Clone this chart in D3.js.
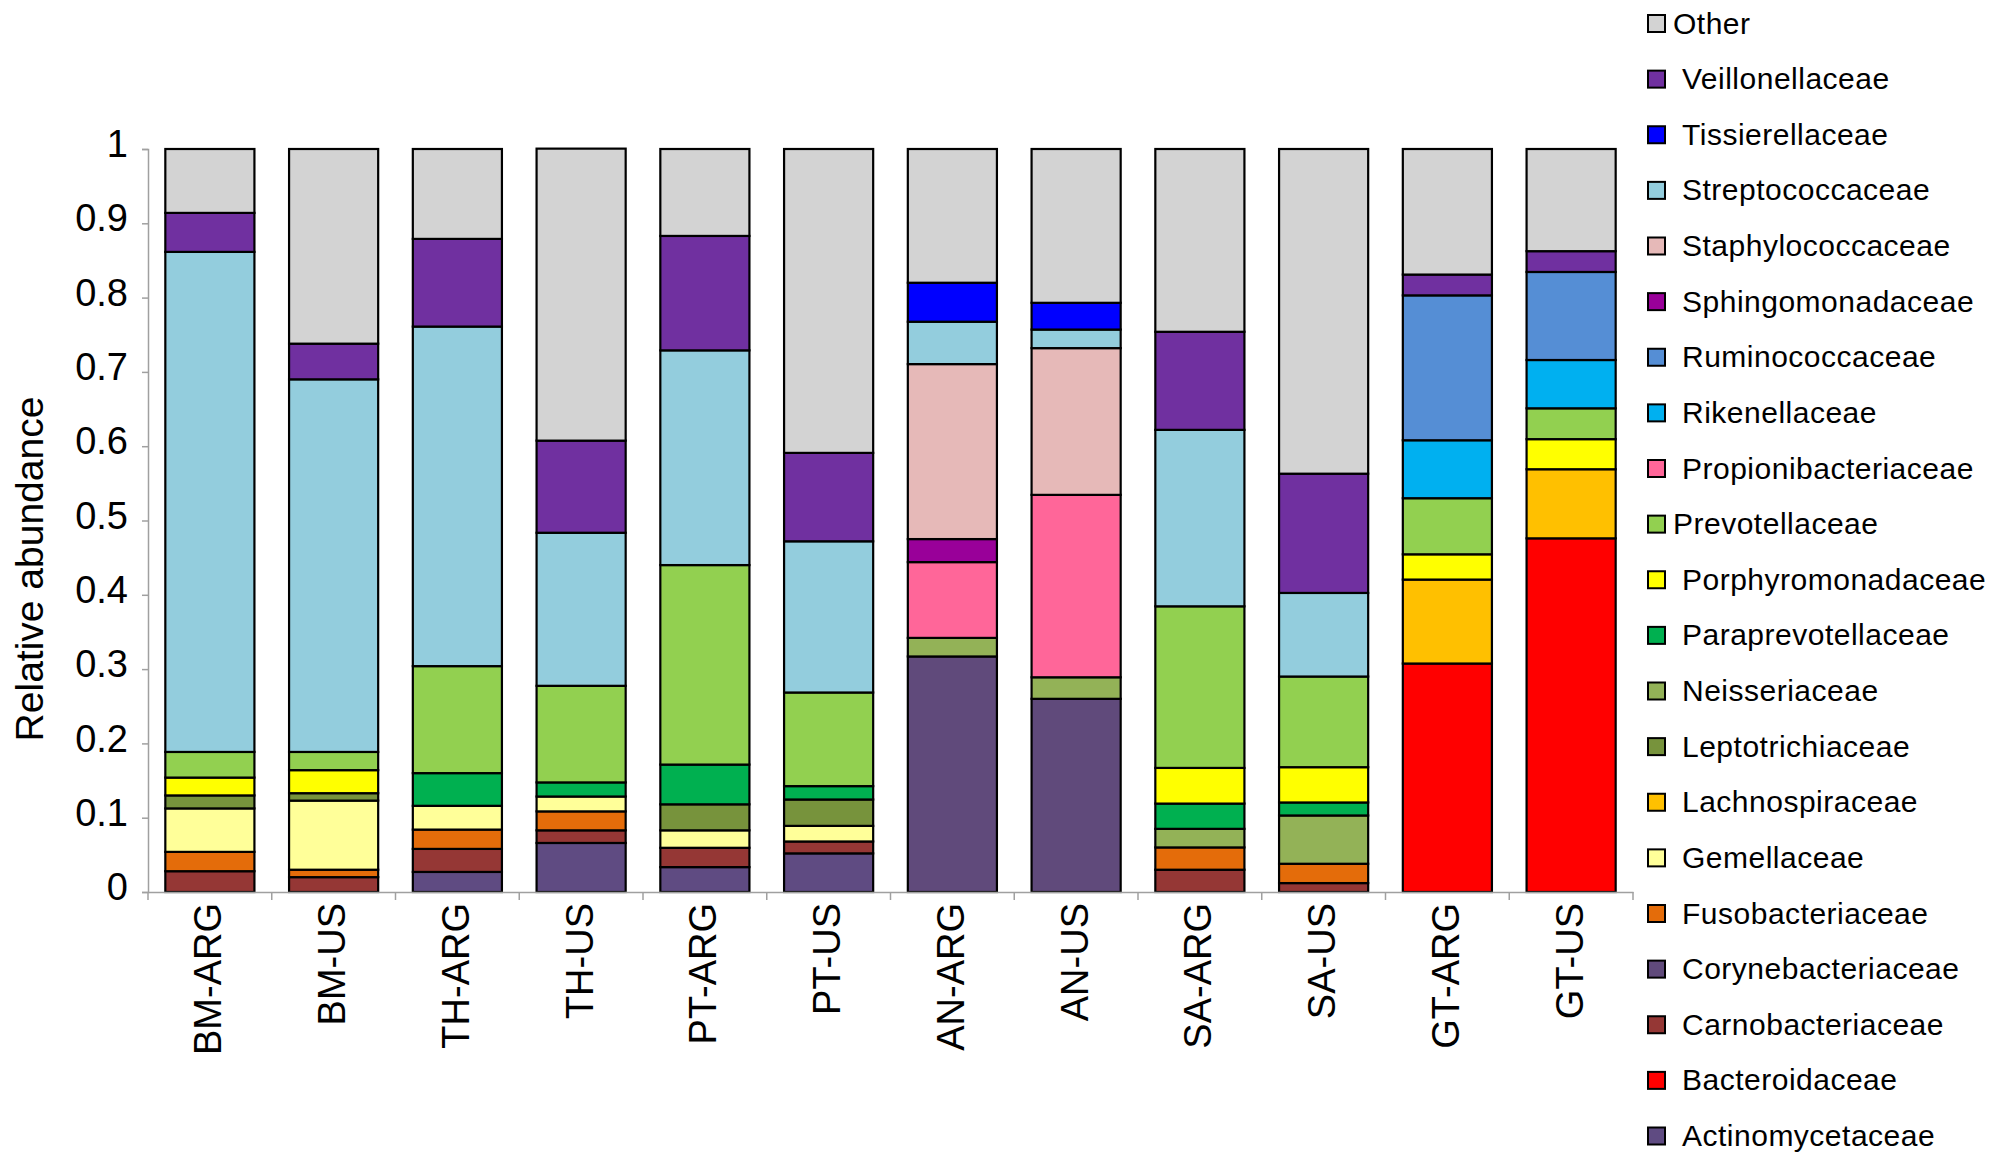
<!DOCTYPE html>
<html>
<head>
<meta charset="utf-8">
<script src="https://cdn.jsdelivr.net/npm/d3@7"></script>
<style>
  body { margin: 0; background: #fff; }
  svg text { font-family: "Liberation Sans", Arial, sans-serif; fill: #000; }
</style>
</head>
<body>
<div id="chart"></div>
<script>
// samples along the x axis
var samples = ["BM-ARG", "BM-US", "TH-ARG", "TH-US", "PT-ARG", "PT-US",
               "AN-ARG", "AN-US", "SA-ARG", "SA-US", "GT-ARG", "GT-US"];

// relative abundance per family, one value per sample (same order as samples)
var Actinomycetaceae     = [0, 0, 0.027, 0.066, 0.0335, 0.052, 0, 0, 0, 0, 0, 0];
var Bacteroidaceae       = [0, 0, 0, 0, 0, 0, 0, 0, 0, 0, 0.3075, 0.476];
var Carnobacteriaceae    = [0.028, 0.020, 0.031, 0.017, 0.026, 0.016, 0, 0, 0.030, 0.012, 0, 0];
var Corynebacteriaceae   = [0, 0, 0, 0, 0, 0, 0.317, 0.260, 0, 0, 0, 0];
var Fusobacteriaceae     = [0.026, 0.010, 0.026, 0.0255, 0, 0, 0, 0, 0.030, 0.026, 0, 0];
var Gemellaceae          = [0.0585, 0.093, 0.032, 0.020, 0.0235, 0.021, 0, 0, 0, 0, 0, 0];
var Lachnospiraceae      = [0, 0, 0, 0, 0, 0, 0, 0, 0, 0, 0.113, 0.093];
var Leptotrichiaceae     = [0.0175, 0.010, 0, 0, 0.035, 0.0355, 0, 0, 0, 0, 0, 0];
var Neisseriaceae        = [0, 0, 0, 0, 0, 0, 0.025, 0.029, 0.025, 0.065, 0, 0];
var Paraprevotellaceae   = [0, 0, 0.044, 0.019, 0.0535, 0.018, 0, 0, 0.034, 0.0175, 0, 0];
var Porphyromonadaceae   = [0.024, 0.031, 0, 0, 0, 0, 0, 0, 0.048, 0.0475, 0.034, 0.0405];
var Prevotellaceae       = [0.0345, 0.0245, 0.144, 0.130, 0.2685, 0.126, 0, 0, 0.2175, 0.122, 0.0755, 0.0415];
var Propionibacteriaceae = [0, 0, 0, 0, 0, 0, 0.102, 0.2455, 0, 0, 0, 0];
var Rikenellaceae        = [0, 0, 0, 0, 0, 0, 0, 0, 0, 0, 0.078, 0.065];
var Ruminococcaceae      = [0, 0, 0, 0, 0, 0, 0, 0, 0, 0, 0.195, 0.1185];
var Sphingomonadaceae    = [0, 0, 0, 0, 0, 0, 0.031, 0, 0, 0, 0, 0];
var Staphylococcaceae    = [0, 0, 0, 0, 0, 0, 0.2355, 0.1975, 0, 0, 0, 0];
var Streptococcaceae     = [0.673, 0.5015, 0.457, 0.206, 0.289, 0.2035, 0.057, 0.025, 0.2375, 0.1125, 0, 0];
var Tissierellaceae      = [0, 0, 0, 0, 0, 0, 0.0525, 0.036, 0, 0, 0, 0];
var Veillonellaceae      = [0.0525, 0.048, 0.118, 0.124, 0.154, 0.119, 0, 0, 0.132, 0.1605, 0.028, 0.028];
var Other                = [0.086, 0.262, 0.121, 0.393, 0.117, 0.409, 0.18, 0.207, 0.246, 0.437, 0.169, 0.1375];

// stacking order, bottom to top
var families = ["Actinomycetaceae", "Bacteroidaceae", "Carnobacteriaceae", "Corynebacteriaceae",
  "Fusobacteriaceae", "Gemellaceae", "Lachnospiraceae", "Leptotrichiaceae", "Neisseriaceae",
  "Paraprevotellaceae", "Porphyromonadaceae", "Prevotellaceae", "Propionibacteriaceae",
  "Rikenellaceae", "Ruminococcaceae", "Sphingomonadaceae", "Staphylococcaceae",
  "Streptococcaceae", "Tissierellaceae", "Veillonellaceae", "Other"];

var familyValues = [Actinomycetaceae, Bacteroidaceae, Carnobacteriaceae, Corynebacteriaceae,
  Fusobacteriaceae, Gemellaceae, Lachnospiraceae, Leptotrichiaceae, Neisseriaceae,
  Paraprevotellaceae, Porphyromonadaceae, Prevotellaceae, Propionibacteriaceae,
  Rikenellaceae, Ruminococcaceae, Sphingomonadaceae, Staphylococcaceae,
  Streptococcaceae, Tissierellaceae, Veillonellaceae, Other];

var familyColors = ["#5f4b82", "#ff0000", "#953735", "#604a7b",
  "#e46c0a", "#ffff99", "#ffc000", "#77933c", "#93b257",
  "#00b050", "#ffff00", "#92d050", "#ff6699",
  "#00b0f0", "#558ed5", "#990099", "#e6b9b8",
  "#93cddd", "#0000ff", "#7030a0", "#d3d3d3"];

var yTicks = [0, 0.1, 0.2, 0.3, 0.4, 0.5, 0.6, 0.7, 0.8, 0.9, 1];

var width = 2000, height = 1164;
var margin = {left: 148, right: 367, top: 149, bottom: 272};

var svg = d3.select("#chart")
    .append("svg")
    .attr("width", width)
    .attr("height", height);

// build the table d3.stack needs
var table = samples.map(function(s, i) {
    var row = {sample: s};
    families.forEach(function(f, j) { row[f] = familyValues[j][i]; });
    return row;
});

var series = d3.stack().keys(families)(table);

var x = d3.scaleBand()
    .domain(samples)
    .range([margin.left, width - margin.right])
    .paddingInner(0.28)
    .paddingOuter(0.14);

var y = d3.scaleLinear()
    .domain([0, 1])
    .range([height - margin.bottom, margin.top]);

var color = d3.scaleOrdinal()
    .domain(families)
    .range(familyColors);

// y axis
var yAxis = svg.append("g")
    .attr("transform", `translate(${margin.left}, 0)`)
    .call(d3.axisLeft(y).tickValues(yTicks).tickSize(6).tickPadding(14)
        .tickFormat(d => d === 0 ? "0" : d === 1 ? "1" : d3.format(".1f")(d)));
yAxis.select(".domain").attr("stroke", "#a0a0a0").attr("stroke-width", 1.5);
yAxis.selectAll(".tick line").attr("stroke", "#a0a0a0").attr("stroke-width", 1.5);
yAxis.selectAll("text")
    .style("font-size", "38px")
    .attr("dy", "0.2em");

// y axis label
svg.append("text")
    .attr("transform", "translate(43, 569) rotate(-90)")
    .style("text-anchor", "middle")
    .style("font-size", "39px")
    .text("Relative abundance");

// bars
svg.append("g")
    .selectAll("g")
    .data(series)
    .enter()
    .append("g")
    .attr("fill", d => color(d.key))
    .selectAll("rect")
    .data(d => d.filter(p => p[1] - p[0] > 0))
    .enter()
    .append("rect")
    .attr("x", d => x(d.data.sample))
    .attr("y", d => y(d[1]))
    .attr("width", x.bandwidth())
    .attr("height", d => y(d[0]) - y(d[1]))
    .attr("stroke", "#000")
    .attr("stroke-width", 2.2);

// x axis
var xAxis = svg.append("g")
    .attr("transform", `translate(0, ${y(0)})`)
    .call(d3.axisBottom(x).tickSize(0));
xAxis.select(".domain").attr("stroke", "#a0a0a0").attr("stroke-width", 1.5);
xAxis.selectAll("text")
    .style("font-size", "38px")
    .style("text-anchor", "end")
    .attr("transform", "rotate(-90)")
    .attr("x", -11)
    .attr("y", 0)
    .attr("dy", "0.3em");

// x tick marks sit between the categories
var boundaries = samples.map(d => x(d) - x.step() * x.paddingInner() / 2);
boundaries.push(x.range()[1]);
boundaries[0] = x.range()[0];
xAxis.selectAll(".boundary")
    .data(boundaries)
    .enter()
    .append("line")
    .attr("class", "boundary")
    .attr("x1", d => d)
    .attr("x2", d => d)
    .attr("y1", 0)
    .attr("y2", 8)
    .attr("stroke", "#a0a0a0")
    .attr("stroke-width", 1.5);

// legend, top entry first
var legendKeys = families.slice().reverse();
var legendY = d3.scalePoint()
    .domain(legendKeys)
    .range([23.5, 1136]);

var legend = svg.append("g")
    .selectAll("g")
    .data(legendKeys)
    .enter()
    .append("g")
    .attr("transform", d => `translate(1648, ${legendY(d)})`);

legend.append("rect")
    .attr("x", 0)
    .attr("y", -8.5)
    .attr("width", 17)
    .attr("height", 17)
    .attr("fill", d => color(d))
    .attr("stroke", "#000")
    .attr("stroke-width", 2);

legend.append("text")
    .attr("x", d => (d === "Other" || d === "Prevotellaceae") ? 25 : 34)
    .attr("y", 10)
    .style("font-size", "30px")
    .style("letter-spacing", "0.5px")
    .text(d => d);
</script>
</body>
</html>
